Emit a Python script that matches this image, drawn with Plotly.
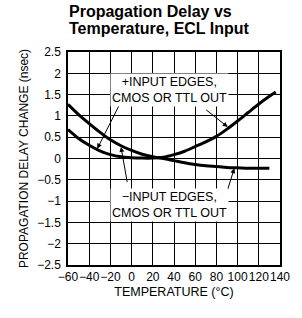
import plotly.graph_objects as go

# + input edges curve (starts low, ends high)
plus_T = [-60, -50, -40, -30, -20, -10, 0, 10, 20, 30, 40, 50, 60, 70, 80, 90, 100, 110, 120, 130, 136]
plus_V = [0.68, 0.47, 0.31, 0.18, 0.09, 0.04, 0.02, 0.01, 0.01, 0.03, 0.09, 0.17, 0.28, 0.39, 0.52, 0.69, 0.88, 1.08, 1.28, 1.46, 1.56]

# - input edges curve (starts high, ends low)
minus_T = [-60, -50, -40, -30, -20, -10, 0, 10, 20, 30, 40, 50, 60, 70, 80, 90, 100, 110, 120, 130]
minus_V = [1.27, 1.03, 0.82, 0.62, 0.44, 0.30, 0.19, 0.10, 0.04, 0.00, -0.05, -0.10, -0.14, -0.17, -0.19, -0.21, -0.22, -0.23, -0.23, -0.23]

x_ticks = [-60, -40, -20, 0, 20, 40, 60, 80, 100, 120, 140]
x_ticktext = ["\u221260", "\u221240", "\u221220", "0", "20", "40", "60", "80", "100", "120", "140"]
y_ticks = [2.5, 2, 1.5, 1, 0.5, 0, -0.5, -1, -1.5, -2, -2.5]
y_ticktext = ["2.5", "2", "1.5", "1", "0.5", "0", "\u22120.5", "\u22121", "\u22121.5", "\u22122", "\u22122.5"]

title_lines = ["Propagation Delay vs", "Temperature, ECL Input"]
x_title = "TEMPERATURE (\u00b0C)"
y_title = "PROPAGATION DELAY CHANGE (nsec)"

plus_label = "+INPUT EDGES,<br>CMOS OR TTL OUT"
minus_label = "\u2212INPUT EDGES,<br>CMOS OR TTL OUT"
plus_label_pos = (36, 1.6)
minus_label_pos = (36, -1.1)

# arrows: (tip_x, tip_y, tail_x, tail_y)
arrows = [
    (-32.4, 0.23, -10.7, 1.30),
    (90.7, 0.74, 69.0, 1.17),
    (-10.0, 0.27, -3.9, -0.59),
    (96.9, -0.23, 90.0, -0.78),
]

FONT = "Liberation Sans"

fig = go.Figure()
fig.add_trace(go.Scatter(x=plus_T, y=plus_V, mode="lines",
                         line=dict(color="black", width=3, shape="spline", smoothing=0.8),
                         hoverinfo="skip", showlegend=False))
fig.add_trace(go.Scatter(x=minus_T, y=minus_V, mode="lines",
                         line=dict(color="black", width=3, shape="spline", smoothing=0.8),
                         hoverinfo="skip", showlegend=False))

annotations = []
for (tx, ty, ax, ay) in arrows:
    annotations.append(dict(x=tx, y=ty, ax=ax, ay=ay, xref="x", yref="y",
                            axref="x", ayref="y", text="", showarrow=True,
                            arrowhead=2, arrowsize=1, arrowwidth=1,
                            arrowcolor="black"))

annotations.append(dict(x=plus_label_pos[0], y=plus_label_pos[1], xref="x", yref="y",
                        text=plus_label, showarrow=False, bgcolor="white",
                        font=dict(family=FONT, size=12.5, color="black")))
annotations.append(dict(x=minus_label_pos[0], y=minus_label_pos[1], xref="x", yref="y",
                        text=minus_label, showarrow=False, bgcolor="white",
                        font=dict(family=FONT, size=12.5, color="black")))

# Title lines
annotations.append(dict(x=-0.005, y=(265 - 12) / 213, xref="paper", yref="paper",
                        xanchor="left", yanchor="middle", text="<b>%s</b>" % title_lines[0],
                        showarrow=False, font=dict(family=FONT, size=16, color="black")))
annotations.append(dict(x=-0.005, y=(265 - 28.5) / 213, xref="paper", yref="paper",
                        xanchor="left", yanchor="middle", text="<b>%s</b>" % title_lines[1],
                        showarrow=False, font=dict(family=FONT, size=16, color="black")))

fig.update_layout(
    width=302, height=318,
    margin=dict(l=68, r=19, t=52, b=53),
    paper_bgcolor="white", plot_bgcolor="white",
    font=dict(family=FONT, size=12, color="black"),
    annotations=annotations,
    xaxis=dict(range=[-60, 140], tickvals=x_ticks, ticktext=x_ticktext, tickangle=0,
               showgrid=True, gridcolor="black", gridwidth=1,
               showline=True, linecolor="black", linewidth=1.5, mirror=True,
               zeroline=False, ticks="", ticklabeloverflow="allow",
               title=dict(text=x_title, font=dict(family=FONT, size=12.5), standoff=4),
               tickfont=dict(family=FONT, size=12)),
    yaxis=dict(range=[-2.5, 2.5], tickvals=y_ticks, ticktext=y_ticktext,
               showgrid=True, gridcolor="black", gridwidth=1,
               showline=True, linecolor="black", linewidth=1.5, mirror=True,
               zeroline=False, ticks="outside", ticklen=3, tickcolor="white",
               title=dict(text=y_title, font=dict(family=FONT, size=12), standoff=6),
               tickfont=dict(family=FONT, size=12)),
)

fig.write_html("out.html", config={"displayModeBar": False},
               post_script="document.body.style.margin='0';")
